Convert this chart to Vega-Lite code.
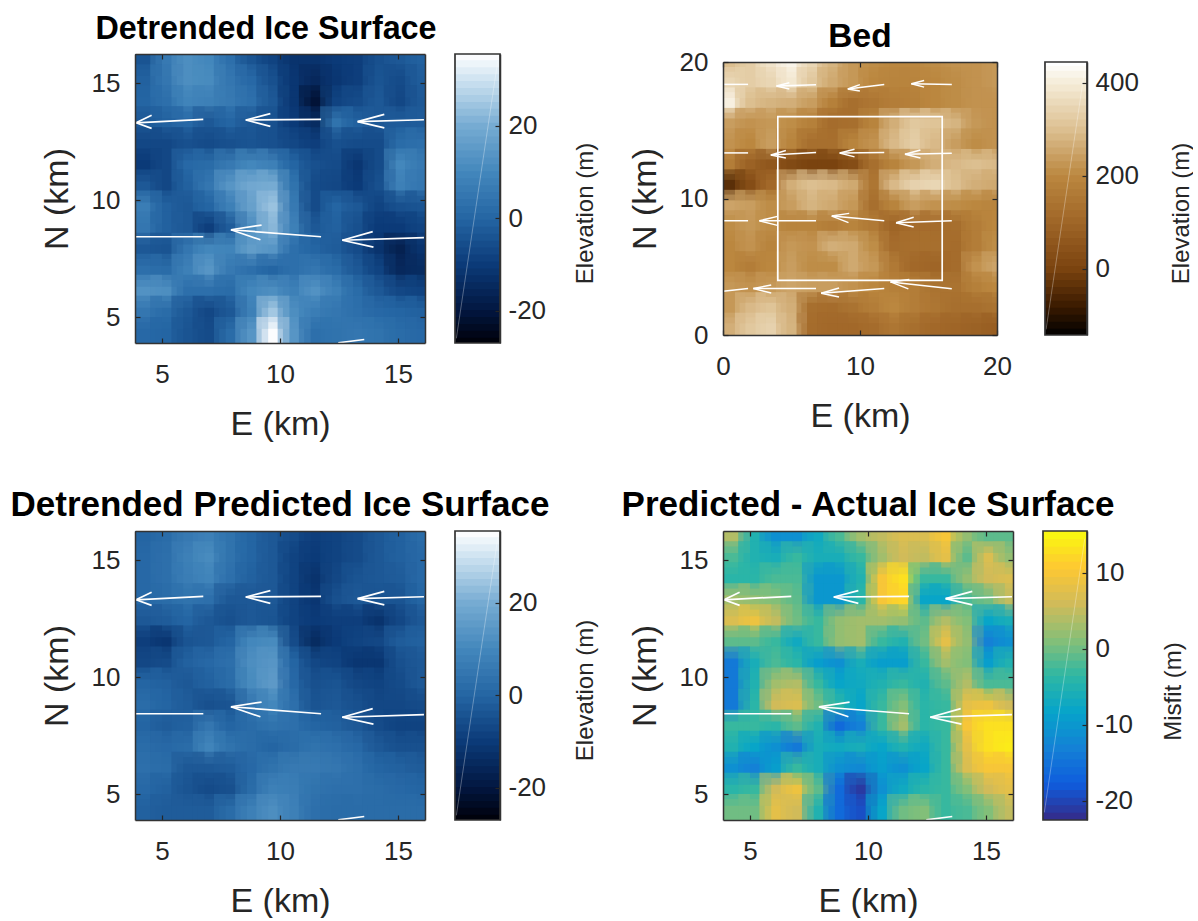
{"$schema":"https://vega.github.io/schema/vega-lite/v6.json","padding":{"left":10,"top":13,"right":0,"bottom":0},"background":"white","columns":5,"align":"each","bounds":"flush","center":{"row":true,"column":false},"spacing":{"column":30,"row":188},"resolve":{"scale":{"color":"independent"}},
"config":{"view":{"stroke":null},"axis":{"grid":false,"domainColor":"#333333","domainWidth":1.5,"tickColor":"#262626","tickSize":-5,"tickWidth":1.2,"labelFont":"Liberation Sans","labelFontSize":26,"labelColor":"#262626","labelFlush":false,"labelOverlap":false,"labelExpr":"''+datum.value","titleFont":"Liberation Sans","titleFontSize":34,"titleFontWeight":"normal","titleColor":"#262626"},"axisX":{"labelPadding":23,"titlePadding":20},"axisY":{"labelPadding":20,"titlePadding":17},"title":{"font":"Liberation Sans","fontSize":32,"fontWeight":"bold","color":"#000000","offset":8}},
"datasets":{
"cbBlue":[{"v":-26.5},{"v":-25},{"v":-23.5},{"v":-22},{"v":-20.5},{"v":-19},{"v":-17.5},{"v":-16},{"v":-14.5},{"v":-13},{"v":-11.5},{"v":-10},{"v":-8.5},{"v":-7},{"v":-5.5},{"v":-4},{"v":-2.5},{"v":-1},{"v":0.5},{"v":2},{"v":3.5},{"v":5},{"v":6.5},{"v":8},{"v":9.5},{"v":11},{"v":12.5},{"v":14},{"v":15.5},{"v":17},{"v":18.5},{"v":20},{"v":21.5},{"v":23},{"v":24.5},{"v":26},{"v":27.5},{"v":29},{"v":30.5},{"v":32},{"v":33.5},{"v":35}],
"cbBed":[{"v":-135},{"v":-120},{"v":-105},{"v":-90},{"v":-75},{"v":-60},{"v":-45},{"v":-30},{"v":-15},{"v":0},{"v":15},{"v":30},{"v":45},{"v":60},{"v":75},{"v":90},{"v":105},{"v":120},{"v":135},{"v":150},{"v":165},{"v":180},{"v":195},{"v":210},{"v":225},{"v":240},{"v":255},{"v":270},{"v":285},{"v":300},{"v":315},{"v":330},{"v":345},{"v":360},{"v":375},{"v":390},{"v":405},{"v":420},{"v":435},{"v":445}],
"cbMis":[{"v":-22},{"v":-21},{"v":-20},{"v":-19},{"v":-18},{"v":-17},{"v":-16},{"v":-15},{"v":-14},{"v":-13},{"v":-12},{"v":-11},{"v":-10},{"v":-9},{"v":-8},{"v":-7},{"v":-6},{"v":-5},{"v":-4},{"v":-3},{"v":-2},{"v":-1},{"v":0},{"v":1},{"v":2},{"v":3},{"v":4},{"v":5},{"v":6},{"v":7},{"v":8},{"v":9},{"v":10},{"v":11},{"v":12},{"v":13},{"v":14},{"v":15}],
"arrows":[{"x":6.75,"y":13.45,"x2":3.9,"y2":13.3},{"x":3.9,"y":13.3,"x2":4.56,"y2":13.62},{"x":3.9,"y":13.3,"x2":4.56,"y2":13.06},{"x":11.74,"y":13.45,"x2":8.55,"y2":13.42},{"x":8.55,"y":13.42,"x2":9.59,"y2":13.69},{"x":8.55,"y":13.42,"x2":9.59,"y2":13.15},{"x":16.1,"y":13.43,"x2":13.29,"y2":13.35},{"x":13.29,"y":13.35,"x2":14.42,"y2":13.66},{"x":13.29,"y":13.35,"x2":14.42,"y2":13.08},{"x":6.75,"y":8.43,"x2":3.86,"y2":8.43},{"x":11.74,"y":8.43,"x2":7.92,"y2":8.73},{"x":7.92,"y":8.73,"x2":9.22,"y2":8.93},{"x":7.92,"y":8.73,"x2":9.17,"y2":8.3},{"x":16.1,"y":8.39,"x2":12.64,"y2":8.28},{"x":12.64,"y":8.28,"x2":13.93,"y2":8.65},{"x":12.64,"y":8.28,"x2":13.96,"y2":7.99},{"x":13.57,"y":4.04,"x2":12.47,"y2":3.9}],
"bedArrows":[{"x":1.83,"y":18.36,"x2":0,"y2":18.36},{"x":6.79,"y":18.33,"x2":3.91,"y2":18.24},{"x":3.91,"y":18.24,"x2":4.84,"y2":18.48},{"x":3.91,"y":18.24,"x2":4.84,"y2":18.02},{"x":11.77,"y":18.36,"x2":9.11,"y2":18.02},{"x":9.11,"y":18.02,"x2":9.99,"y2":18.34},{"x":9.11,"y":18.02,"x2":9.99,"y2":17.87},{"x":16.7,"y":18.36,"x2":13.75,"y2":18.41},{"x":13.75,"y":18.41,"x2":14.68,"y2":18.65},{"x":13.75,"y":18.41,"x2":14.68,"y2":18.16},{"x":1.83,"y":13.34,"x2":0,"y2":13.34},{"x":6.79,"y":13.37,"x2":3.49,"y2":13.19},{"x":3.49,"y":13.19,"x2":4.59,"y2":13.51},{"x":3.49,"y":13.19,"x2":4.59,"y2":12.97},{"x":11.77,"y":13.37,"x2":8.52,"y2":13.34},{"x":8.52,"y":13.34,"x2":9.6,"y2":13.61},{"x":8.52,"y":13.34,"x2":9.6,"y2":13.05},{"x":16.7,"y":13.32,"x2":13.28,"y2":13.24},{"x":13.28,"y":13.24,"x2":14.41,"y2":13.56},{"x":13.28,"y":13.24,"x2":14.41,"y2":12.97},{"x":1.83,"y":8.37,"x2":0,"y2":8.37},{"x":6.79,"y":8.37,"x2":2.66,"y2":8.37},{"x":2.66,"y":8.37,"x2":3.98,"y2":8.69},{"x":2.66,"y":8.37,"x2":3.98,"y2":8.03},{"x":11.77,"y":8.37,"x2":7.94,"y2":8.71},{"x":7.94,"y":8.71,"x2":9.21,"y2":8.91},{"x":7.94,"y":8.71,"x2":9.16,"y2":8.23},{"x":16.7,"y":8.37,"x2":12.63,"y2":8.23},{"x":12.63,"y":8.23,"x2":13.92,"y2":8.62},{"x":12.63,"y":8.23,"x2":13.92,"y2":7.91},{"x":1.83,"y":3.4,"x2":0,"y2":3.21},{"x":6.79,"y":3.4,"x2":2.22,"y2":3.4},{"x":2.22,"y":3.4,"x2":3.52,"y2":3.67},{"x":2.22,"y":3.4,"x2":3.52,"y2":3.08},{"x":11.77,"y":3.4,"x2":7.16,"y2":3.06},{"x":7.16,"y":3.06,"x2":8.47,"y2":3.45},{"x":7.16,"y":3.06,"x2":8.47,"y2":2.79},{"x":16.7,"y":3.38,"x2":12.23,"y2":3.89},{"x":12.23,"y":3.89,"x2":13.6,"y2":4.06},{"x":12.23,"y":3.89,"x2":13.53,"y2":3.38}],
"ice":[{"e":4.3,"n":16,"v":-4},{"e":5.2,"n":16,"v":6},{"e":6.1,"n":16,"v":12},{"e":7,"n":16,"v":10},{"e":7.9,"n":16,"v":3},{"e":8.8,"n":16,"v":-4},{"e":9.7,"n":16,"v":-8},{"e":10.6,"n":16,"v":-12},{"e":11.5,"n":16,"v":-12},{"e":12.4,"n":16,"v":-10},{"e":13.3,"n":16,"v":-9},{"e":14.2,"n":16,"v":-5},{"e":15.1,"n":16,"v":-3},{"e":16,"n":16,"v":-1},
{"e":4.3,"n":15.1,"v":-1},{"e":5.2,"n":15.1,"v":5},{"e":6.1,"n":15.1,"v":12},{"e":7,"n":15.1,"v":11},{"e":7.9,"n":15.1,"v":5},{"e":8.8,"n":15.1,"v":1},{"e":9.7,"n":15.1,"v":-5},{"e":10.6,"n":15.1,"v":-11},{"e":11.5,"n":15.1,"v":-15},{"e":12.4,"n":15.1,"v":-11},{"e":13.3,"n":15.1,"v":-9},{"e":14.2,"n":15.1,"v":-4},{"e":15.1,"n":15.1,"v":-6},{"e":16,"n":15.1,"v":-2},
{"e":4.3,"n":14.2,"v":0},{"e":5.2,"n":14.2,"v":3},{"e":6.1,"n":14.2,"v":9},{"e":7,"n":14.2,"v":8},{"e":7.9,"n":14.2,"v":6},{"e":8.8,"n":14.2,"v":3},{"e":9.7,"n":14.2,"v":-3},{"e":10.6,"n":14.2,"v":-11},{"e":11.5,"n":14.2,"v":-21},{"e":12.4,"n":14.2,"v":-8},{"e":13.3,"n":14.2,"v":-6},{"e":14.2,"n":14.2,"v":-3},{"e":15.1,"n":14.2,"v":-7},{"e":16,"n":14.2,"v":-3},
{"e":4.3,"n":13.3,"v":-3},{"e":5.2,"n":13.3,"v":-1},{"e":6.1,"n":13.3,"v":1},{"e":7,"n":13.3,"v":-3},{"e":7.9,"n":13.3,"v":0},{"e":8.8,"n":13.3,"v":-3},{"e":9.7,"n":13.3,"v":-5},{"e":10.6,"n":13.3,"v":-10},{"e":11.5,"n":13.3,"v":-14},{"e":12.4,"n":13.3,"v":4},{"e":13.3,"n":13.3,"v":-1},{"e":14.2,"n":13.3,"v":-3},{"e":15.1,"n":13.3,"v":-2},{"e":16,"n":13.3,"v":-2},
{"e":4.3,"n":12.4,"v":-7},{"e":5.2,"n":12.4,"v":-7},{"e":6.1,"n":12.4,"v":-5},{"e":7,"n":12.4,"v":-6},{"e":7.9,"n":12.4,"v":-5},{"e":8.8,"n":12.4,"v":-4},{"e":9.7,"n":12.4,"v":-5},{"e":10.6,"n":12.4,"v":-7},{"e":11.5,"n":12.4,"v":-9},{"e":12.4,"n":12.4,"v":-5},{"e":13.3,"n":12.4,"v":-6},{"e":14.2,"n":12.4,"v":-6},{"e":15.1,"n":12.4,"v":2},{"e":16,"n":12.4,"v":3},
{"e":4.3,"n":11.5,"v":-10},{"e":5.2,"n":11.5,"v":-7},{"e":6.1,"n":11.5,"v":1},{"e":7,"n":11.5,"v":2},{"e":7.9,"n":11.5,"v":6},{"e":8.8,"n":11.5,"v":10},{"e":9.7,"n":11.5,"v":8},{"e":10.6,"n":11.5,"v":0},{"e":11.5,"n":11.5,"v":-5},{"e":12.4,"n":11.5,"v":-6},{"e":13.3,"n":11.5,"v":-11},{"e":14.2,"n":11.5,"v":-6},{"e":15.1,"n":11.5,"v":10},{"e":16,"n":11.5,"v":6},
{"e":4.3,"n":10.6,"v":-3},{"e":5.2,"n":10.6,"v":-7},{"e":6.1,"n":10.6,"v":-1},{"e":7,"n":10.6,"v":5},{"e":7.9,"n":10.6,"v":14},{"e":8.8,"n":10.6,"v":19},{"e":9.7,"n":10.6,"v":20},{"e":10.6,"n":10.6,"v":4},{"e":11.5,"n":10.6,"v":-6},{"e":12.4,"n":10.6,"v":-7},{"e":13.3,"n":10.6,"v":-10},{"e":14.2,"n":10.6,"v":-5},{"e":15.1,"n":10.6,"v":8},{"e":16,"n":10.6,"v":5},
{"e":4.3,"n":9.7,"v":7},{"e":5.2,"n":9.7,"v":-1},{"e":6.1,"n":9.7,"v":-3},{"e":7,"n":9.7,"v":0},{"e":7.9,"n":9.7,"v":8},{"e":8.8,"n":9.7,"v":17},{"e":9.7,"n":9.7,"v":24},{"e":10.6,"n":9.7,"v":6},{"e":11.5,"n":9.7,"v":-6},{"e":12.4,"n":9.7,"v":0},{"e":13.3,"n":9.7,"v":-3},{"e":14.2,"n":9.7,"v":-8},{"e":15.1,"n":9.7,"v":-5},{"e":16,"n":9.7,"v":-4},
{"e":4.3,"n":8.8,"v":5},{"e":5.2,"n":8.8,"v":-1},{"e":6.1,"n":8.8,"v":-3},{"e":7,"n":8.8,"v":-9},{"e":7.9,"n":8.8,"v":-2},{"e":8.8,"n":8.8,"v":12},{"e":9.7,"n":8.8,"v":22},{"e":10.6,"n":8.8,"v":8},{"e":11.5,"n":8.8,"v":-3},{"e":12.4,"n":8.8,"v":-1},{"e":13.3,"n":8.8,"v":-5},{"e":14.2,"n":8.8,"v":-10},{"e":15.1,"n":8.8,"v":-10},{"e":16,"n":8.8,"v":-8},
{"e":4.3,"n":7.9,"v":-3},{"e":5.2,"n":7.9,"v":-4},{"e":6.1,"n":7.9,"v":5},{"e":7,"n":7.9,"v":10},{"e":7.9,"n":7.9,"v":9},{"e":8.8,"n":7.9,"v":16},{"e":9.7,"n":7.9,"v":14},{"e":10.6,"n":7.9,"v":3},{"e":11.5,"n":7.9,"v":0},{"e":12.4,"n":7.9,"v":-2},{"e":13.3,"n":7.9,"v":-6},{"e":14.2,"n":7.9,"v":-12},{"e":15.1,"n":7.9,"v":-17},{"e":16,"n":7.9,"v":-12},
{"e":4.3,"n":7,"v":3},{"e":5.2,"n":7,"v":2},{"e":6.1,"n":7,"v":8},{"e":7,"n":7,"v":14},{"e":7.9,"n":7,"v":6},{"e":8.8,"n":7,"v":3},{"e":9.7,"n":7,"v":0},{"e":10.6,"n":7,"v":3},{"e":11.5,"n":7,"v":5},{"e":12.4,"n":7,"v":2},{"e":13.3,"n":7,"v":-3},{"e":14.2,"n":7,"v":-8},{"e":15.1,"n":7,"v":-15},{"e":16,"n":7,"v":-14},
{"e":4.3,"n":6.1,"v":13},{"e":5.2,"n":6.1,"v":12},{"e":6.1,"n":6.1,"v":3},{"e":7,"n":6.1,"v":3},{"e":7.9,"n":6.1,"v":2},{"e":8.8,"n":6.1,"v":10},{"e":9.7,"n":6.1,"v":12},{"e":10.6,"n":6.1,"v":8},{"e":11.5,"n":6.1,"v":13},{"e":12.4,"n":6.1,"v":8},{"e":13.3,"n":6.1,"v":2},{"e":14.2,"n":6.1,"v":-3},{"e":15.1,"n":6.1,"v":-7},{"e":16,"n":6.1,"v":-8},
{"e":4.3,"n":5.2,"v":5},{"e":5.2,"n":5.2,"v":2},{"e":6.1,"n":5.2,"v":-3},{"e":7,"n":5.2,"v":-7},{"e":7.9,"n":5.2,"v":-3},{"e":8.8,"n":5.2,"v":8},{"e":9.7,"n":5.2,"v":25},{"e":10.6,"n":5.2,"v":12},{"e":11.5,"n":5.2,"v":7},{"e":12.4,"n":5.2,"v":5},{"e":13.3,"n":5.2,"v":3},{"e":14.2,"n":5.2,"v":1},{"e":15.1,"n":5.2,"v":0},{"e":16,"n":5.2,"v":-1},
{"e":4.3,"n":4.3,"v":1},{"e":5.2,"n":4.3,"v":0},{"e":6.1,"n":4.3,"v":-4},{"e":7,"n":4.3,"v":-6},{"e":7.9,"n":4.3,"v":2},{"e":8.8,"n":4.3,"v":14},{"e":9.7,"n":4.3,"v":35},{"e":10.6,"n":4.3,"v":14},{"e":11.5,"n":4.3,"v":3},{"e":12.4,"n":4.3,"v":4},{"e":13.3,"n":4.3,"v":5},{"e":14.2,"n":4.3,"v":4},{"e":15.1,"n":4.3,"v":2},{"e":16,"n":4.3,"v":1}],
"pred":[{"e":4.3,"n":16,"v":0},{"e":5.2,"n":16,"v":2},{"e":6.1,"n":16,"v":6},{"e":7,"n":16,"v":8},{"e":7.9,"n":16,"v":4},{"e":8.8,"n":16,"v":0},{"e":9.7,"n":16,"v":-3},{"e":10.6,"n":16,"v":-6},{"e":11.5,"n":16,"v":-9},{"e":12.4,"n":16,"v":-8},{"e":13.3,"n":16,"v":-6},{"e":14.2,"n":16,"v":-3},{"e":15.1,"n":16,"v":-1},{"e":16,"n":16,"v":2},
{"e":4.3,"n":15.1,"v":1},{"e":5.2,"n":15.1,"v":3},{"e":6.1,"n":15.1,"v":8},{"e":7,"n":15.1,"v":11},{"e":7.9,"n":15.1,"v":4},{"e":8.8,"n":15.1,"v":0},{"e":9.7,"n":15.1,"v":-3},{"e":10.6,"n":15.1,"v":-8},{"e":11.5,"n":15.1,"v":-10},{"e":12.4,"n":15.1,"v":-8},{"e":13.3,"n":15.1,"v":-6},{"e":14.2,"n":15.1,"v":-3},{"e":15.1,"n":15.1,"v":-1},{"e":16,"n":15.1,"v":1},
{"e":4.3,"n":14.2,"v":1},{"e":5.2,"n":14.2,"v":3},{"e":6.1,"n":14.2,"v":7},{"e":7,"n":14.2,"v":9},{"e":7.9,"n":14.2,"v":3},{"e":8.8,"n":14.2,"v":-1},{"e":9.7,"n":14.2,"v":-3},{"e":10.6,"n":14.2,"v":-8},{"e":11.5,"n":14.2,"v":-12},{"e":12.4,"n":14.2,"v":-7},{"e":13.3,"n":14.2,"v":-4},{"e":14.2,"n":14.2,"v":-3},{"e":15.1,"n":14.2,"v":-2},{"e":16,"n":14.2,"v":1},
{"e":4.3,"n":13.3,"v":1},{"e":5.2,"n":13.3,"v":2},{"e":6.1,"n":13.3,"v":4},{"e":7,"n":13.3,"v":3},{"e":7.9,"n":13.3,"v":-3},{"e":8.8,"n":13.3,"v":-3},{"e":9.7,"n":13.3,"v":-3},{"e":10.6,"n":13.3,"v":-8},{"e":11.5,"n":13.3,"v":-11},{"e":12.4,"n":13.3,"v":-5},{"e":13.3,"n":13.3,"v":-3},{"e":14.2,"n":13.3,"v":-4},{"e":15.1,"n":13.3,"v":-4},{"e":16,"n":13.3,"v":0},
{"e":4.3,"n":12.4,"v":-3},{"e":5.2,"n":12.4,"v":-2},{"e":6.1,"n":12.4,"v":0},{"e":7,"n":12.4,"v":-3},{"e":7.9,"n":12.4,"v":-5},{"e":8.8,"n":12.4,"v":-3},{"e":9.7,"n":12.4,"v":-4},{"e":10.6,"n":12.4,"v":-8},{"e":11.5,"n":12.4,"v":-10},{"e":12.4,"n":12.4,"v":-9},{"e":13.3,"n":12.4,"v":-9},{"e":14.2,"n":12.4,"v":-12},{"e":15.1,"n":12.4,"v":-7},{"e":16,"n":12.4,"v":-3},
{"e":4.3,"n":11.5,"v":-9},{"e":5.2,"n":11.5,"v":-11},{"e":6.1,"n":11.5,"v":-4},{"e":7,"n":11.5,"v":-3},{"e":7.9,"n":11.5,"v":0},{"e":8.8,"n":11.5,"v":10},{"e":9.7,"n":11.5,"v":11},{"e":10.6,"n":11.5,"v":-6},{"e":11.5,"n":11.5,"v":-14},{"e":12.4,"n":11.5,"v":-10},{"e":13.3,"n":11.5,"v":-8},{"e":14.2,"n":11.5,"v":-7},{"e":15.1,"n":11.5,"v":-2},{"e":16,"n":11.5,"v":-1},
{"e":4.3,"n":10.6,"v":-7},{"e":5.2,"n":10.6,"v":-6},{"e":6.1,"n":10.6,"v":-1},{"e":7,"n":10.6,"v":1},{"e":7.9,"n":10.6,"v":3},{"e":8.8,"n":10.6,"v":12},{"e":9.7,"n":10.6,"v":14},{"e":10.6,"n":10.6,"v":0},{"e":11.5,"n":10.6,"v":-7},{"e":12.4,"n":10.6,"v":-8},{"e":13.3,"n":10.6,"v":-11},{"e":14.2,"n":10.6,"v":-11},{"e":15.1,"n":10.6,"v":-5},{"e":16,"n":10.6,"v":-3},
{"e":4.3,"n":9.7,"v":0},{"e":5.2,"n":9.7,"v":-1},{"e":6.1,"n":9.7,"v":-3},{"e":7,"n":9.7,"v":-1},{"e":7.9,"n":9.7,"v":2},{"e":8.8,"n":9.7,"v":11},{"e":9.7,"n":9.7,"v":15},{"e":10.6,"n":9.7,"v":1},{"e":11.5,"n":9.7,"v":-5},{"e":12.4,"n":9.7,"v":-4},{"e":13.3,"n":9.7,"v":-7},{"e":14.2,"n":9.7,"v":-8},{"e":15.1,"n":9.7,"v":-6},{"e":16,"n":9.7,"v":-3},
{"e":4.3,"n":8.8,"v":2},{"e":5.2,"n":8.8,"v":0},{"e":6.1,"n":8.8,"v":-2},{"e":7,"n":8.8,"v":-5},{"e":7.9,"n":8.8,"v":-4},{"e":8.8,"n":8.8,"v":5},{"e":9.7,"n":8.8,"v":10},{"e":10.6,"n":8.8,"v":3},{"e":11.5,"n":8.8,"v":-4},{"e":12.4,"n":8.8,"v":-3},{"e":13.3,"n":8.8,"v":-5},{"e":14.2,"n":8.8,"v":-7},{"e":15.1,"n":8.8,"v":-7},{"e":16,"n":8.8,"v":-6},
{"e":4.3,"n":7.9,"v":0},{"e":5.2,"n":7.9,"v":-2},{"e":6.1,"n":7.9,"v":-1},{"e":7,"n":7.9,"v":5},{"e":7.9,"n":7.9,"v":0},{"e":8.8,"n":7.9,"v":2},{"e":9.7,"n":7.9,"v":4},{"e":10.6,"n":7.9,"v":3},{"e":11.5,"n":7.9,"v":0},{"e":12.4,"n":7.9,"v":-1},{"e":13.3,"n":7.9,"v":-3},{"e":14.2,"n":7.9,"v":-6},{"e":15.1,"n":7.9,"v":-8},{"e":16,"n":7.9,"v":-8},
{"e":4.3,"n":7,"v":2},{"e":5.2,"n":7,"v":1},{"e":6.1,"n":7,"v":2},{"e":7,"n":7,"v":9},{"e":7.9,"n":7,"v":4},{"e":8.8,"n":7,"v":2},{"e":9.7,"n":7,"v":0},{"e":10.6,"n":7,"v":2},{"e":11.5,"n":7,"v":4},{"e":12.4,"n":7,"v":3},{"e":13.3,"n":7,"v":1},{"e":14.2,"n":7,"v":-3},{"e":15.1,"n":7,"v":-5},{"e":16,"n":7,"v":-5},
{"e":4.3,"n":6.1,"v":3},{"e":5.2,"n":6.1,"v":2},{"e":6.1,"n":6.1,"v":-3},{"e":7,"n":6.1,"v":-3},{"e":7.9,"n":6.1,"v":-2},{"e":8.8,"n":6.1,"v":1},{"e":9.7,"n":6.1,"v":4},{"e":10.6,"n":6.1,"v":6},{"e":11.5,"n":6.1,"v":6},{"e":12.4,"n":6.1,"v":5},{"e":13.3,"n":6.1,"v":3},{"e":14.2,"n":6.1,"v":0},{"e":15.1,"n":6.1,"v":-1},{"e":16,"n":6.1,"v":-2},
{"e":4.3,"n":5.2,"v":1},{"e":5.2,"n":5.2,"v":-1},{"e":6.1,"n":5.2,"v":-4},{"e":7,"n":5.2,"v":-6},{"e":7.9,"n":5.2,"v":-5},{"e":8.8,"n":5.2,"v":2},{"e":9.7,"n":5.2,"v":8},{"e":10.6,"n":5.2,"v":7},{"e":11.5,"n":5.2,"v":4},{"e":12.4,"n":5.2,"v":3},{"e":13.3,"n":5.2,"v":3},{"e":14.2,"n":5.2,"v":2},{"e":15.1,"n":5.2,"v":1},{"e":16,"n":5.2,"v":0},
{"e":4.3,"n":4.3,"v":-1},{"e":5.2,"n":4.3,"v":-2},{"e":6.1,"n":4.3,"v":-2},{"e":7,"n":4.3,"v":-2},{"e":7.9,"n":4.3,"v":2},{"e":8.8,"n":4.3,"v":8},{"e":9.7,"n":4.3,"v":12},{"e":10.6,"n":4.3,"v":8},{"e":11.5,"n":4.3,"v":3},{"e":12.4,"n":4.3,"v":2},{"e":13.3,"n":4.3,"v":2},{"e":14.2,"n":4.3,"v":2},{"e":15.1,"n":4.3,"v":2},{"e":16,"n":4.3,"v":2}],
"mis":[{"e":4.3,"n":16,"v":4},{"e":5.2,"n":16,"v":-5},{"e":6.1,"n":16,"v":-11},{"e":7,"n":16,"v":-11},{"e":7.9,"n":16,"v":-7},{"e":8.8,"n":16,"v":-2},{"e":9.7,"n":16,"v":3},{"e":10.6,"n":16,"v":5},{"e":11.5,"n":16,"v":7},{"e":12.4,"n":16,"v":7},{"e":13.3,"n":16,"v":10},{"e":14.2,"n":16,"v":2},{"e":15.1,"n":16,"v":-1},{"e":16,"n":16,"v":-1},
{"e":4.3,"n":15.1,"v":-2},{"e":5.2,"n":15.1,"v":-5},{"e":6.1,"n":15.1,"v":-6},{"e":7,"n":15.1,"v":-3},{"e":7.9,"n":15.1,"v":-6},{"e":8.8,"n":15.1,"v":-6},{"e":9.7,"n":15.1,"v":-3},{"e":10.6,"n":15.1,"v":3},{"e":11.5,"n":15.1,"v":6},{"e":12.4,"n":15.1,"v":5},{"e":13.3,"n":15.1,"v":8},{"e":14.2,"n":15.1,"v":-1},{"e":15.1,"n":15.1,"v":7},{"e":16,"n":15.1,"v":2},
{"e":4.3,"n":14.2,"v":-4},{"e":5.2,"n":14.2,"v":-4},{"e":6.1,"n":14.2,"v":-2},{"e":7,"n":14.2,"v":-2},{"e":7.9,"n":14.2,"v":-10},{"e":8.8,"n":14.2,"v":-10},{"e":9.7,"n":14.2,"v":-5},{"e":10.6,"n":14.2,"v":10},{"e":11.5,"n":14.2,"v":13},{"e":12.4,"n":14.2,"v":-3},{"e":13.3,"n":14.2,"v":-3},{"e":14.2,"n":14.2,"v":2},{"e":15.1,"n":14.2,"v":6},{"e":16,"n":14.2,"v":7},
{"e":4.3,"n":13.3,"v":3},{"e":5.2,"n":13.3,"v":2},{"e":6.1,"n":13.3,"v":1},{"e":7,"n":13.3,"v":-1},{"e":7.9,"n":13.3,"v":-10},{"e":8.8,"n":13.3,"v":-10},{"e":9.7,"n":13.3,"v":-4},{"e":10.6,"n":13.3,"v":10},{"e":11.5,"n":13.3,"v":12},{"e":12.4,"n":13.3,"v":-8},{"e":13.3,"n":13.3,"v":-8},{"e":14.2,"n":13.3,"v":-2},{"e":15.1,"n":13.3,"v":0},{"e":16,"n":13.3,"v":5},
{"e":4.3,"n":12.4,"v":7},{"e":5.2,"n":12.4,"v":9},{"e":6.1,"n":12.4,"v":5},{"e":7,"n":12.4,"v":0},{"e":7.9,"n":12.4,"v":-3},{"e":8.8,"n":12.4,"v":2},{"e":9.7,"n":12.4,"v":3},{"e":10.6,"n":12.4,"v":3},{"e":11.5,"n":12.4,"v":2},{"e":12.4,"n":12.4,"v":-1},{"e":13.3,"n":12.4,"v":4},{"e":14.2,"n":12.4,"v":1},{"e":15.1,"n":12.4,"v":-8},{"e":16,"n":12.4,"v":-6},
{"e":4.3,"n":11.5,"v":-1},{"e":5.2,"n":11.5,"v":-1},{"e":6.1,"n":11.5,"v":-3},{"e":7,"n":11.5,"v":-7},{"e":7.9,"n":11.5,"v":-3},{"e":8.8,"n":11.5,"v":2},{"e":9.7,"n":11.5,"v":3},{"e":10.6,"n":11.5,"v":-3},{"e":11.5,"n":11.5,"v":-5},{"e":12.4,"n":11.5,"v":0},{"e":13.3,"n":11.5,"v":8},{"e":14.2,"n":11.5,"v":2},{"e":15.1,"n":11.5,"v":-13},{"e":16,"n":11.5,"v":-11},
{"e":4.3,"n":10.6,"v":-14},{"e":5.2,"n":10.6,"v":-6},{"e":6.1,"n":10.6,"v":-2},{"e":7,"n":10.6,"v":-4},{"e":7.9,"n":10.6,"v":-9},{"e":8.8,"n":10.6,"v":-11},{"e":9.7,"n":10.6,"v":-6},{"e":10.6,"n":10.6,"v":-9},{"e":11.5,"n":10.6,"v":-9},{"e":12.4,"n":10.6,"v":-3},{"e":13.3,"n":10.6,"v":3},{"e":14.2,"n":10.6,"v":1},{"e":15.1,"n":10.6,"v":-9},{"e":16,"n":10.6,"v":-5},
{"e":4.3,"n":9.7,"v":-14},{"e":5.2,"n":9.7,"v":-5},{"e":6.1,"n":9.7,"v":3},{"e":7,"n":9.7,"v":4},{"e":7.9,"n":9.7,"v":-3},{"e":8.8,"n":9.7,"v":-8},{"e":9.7,"n":9.7,"v":-7},{"e":10.6,"n":9.7,"v":-5},{"e":11.5,"n":9.7,"v":-3},{"e":12.4,"n":9.7,"v":-5},{"e":13.3,"n":9.7,"v":-1},{"e":14.2,"n":9.7,"v":4},{"e":15.1,"n":9.7,"v":-2},{"e":16,"n":9.7,"v":-2},
{"e":4.3,"n":8.8,"v":-14},{"e":5.2,"n":8.8,"v":-4},{"e":6.1,"n":8.8,"v":6},{"e":7,"n":8.8,"v":7},{"e":7.9,"n":8.8,"v":0},{"e":8.8,"n":8.8,"v":-4},{"e":9.7,"n":8.8,"v":-8},{"e":10.6,"n":8.8,"v":-3},{"e":11.5,"n":8.8,"v":1},{"e":12.4,"n":8.8,"v":-4},{"e":13.3,"n":8.8,"v":-3},{"e":14.2,"n":8.8,"v":8},{"e":15.1,"n":8.8,"v":9},{"e":16,"n":8.8,"v":6},
{"e":4.3,"n":7.9,"v":-3},{"e":5.2,"n":7.9,"v":-3},{"e":6.1,"n":7.9,"v":-4},{"e":7,"n":7.9,"v":-1},{"e":7.9,"n":7.9,"v":-5},{"e":8.8,"n":7.9,"v":-16},{"e":9.7,"n":7.9,"v":-13},{"e":10.6,"n":7.9,"v":-3},{"e":11.5,"n":7.9,"v":3},{"e":12.4,"n":7.9,"v":-4},{"e":13.3,"n":7.9,"v":-3},{"e":14.2,"n":7.9,"v":10},{"e":15.1,"n":7.9,"v":13},{"e":16,"n":7.9,"v":13},
{"e":4.3,"n":7,"v":-5},{"e":5.2,"n":7,"v":-8},{"e":6.1,"n":7,"v":-11},{"e":7,"n":7,"v":-14},{"e":7.9,"n":7,"v":-6},{"e":8.8,"n":7,"v":-7},{"e":9.7,"n":7,"v":-6},{"e":10.6,"n":7,"v":-8},{"e":11.5,"n":7,"v":-5},{"e":12.4,"n":7,"v":-7},{"e":13.3,"n":7,"v":-3},{"e":14.2,"n":7,"v":8},{"e":15.1,"n":7,"v":13},{"e":16,"n":7,"v":14},
{"e":4.3,"n":6.1,"v":-11},{"e":5.2,"n":6.1,"v":-13},{"e":6.1,"n":6.1,"v":-9},{"e":7,"n":6.1,"v":-3},{"e":7.9,"n":6.1,"v":-6},{"e":8.8,"n":6.1,"v":-11},{"e":9.7,"n":6.1,"v":-12},{"e":10.6,"n":6.1,"v":-9},{"e":11.5,"n":6.1,"v":-11},{"e":12.4,"n":6.1,"v":-8},{"e":13.3,"n":6.1,"v":-3},{"e":14.2,"n":6.1,"v":7},{"e":15.1,"n":6.1,"v":10},{"e":16,"n":6.1,"v":10},
{"e":4.3,"n":5.2,"v":-4},{"e":5.2,"n":5.2,"v":-3},{"e":6.1,"n":5.2,"v":6},{"e":7,"n":5.2,"v":9},{"e":7.9,"n":5.2,"v":-1},{"e":8.8,"n":5.2,"v":-16},{"e":9.7,"n":5.2,"v":-21},{"e":10.6,"n":5.2,"v":-11},{"e":11.5,"n":5.2,"v":-7},{"e":12.4,"n":5.2,"v":-4},{"e":13.3,"n":5.2,"v":-3},{"e":14.2,"n":5.2,"v":1},{"e":15.1,"n":5.2,"v":6},{"e":16,"n":5.2,"v":8},
{"e":4.3,"n":4.3,"v":0},{"e":5.2,"n":4.3,"v":0},{"e":6.1,"n":4.3,"v":8},{"e":7,"n":4.3,"v":6},{"e":7.9,"n":4.3,"v":-5},{"e":8.8,"n":4.3,"v":-16},{"e":9.7,"n":4.3,"v":-19},{"e":10.6,"n":4.3,"v":-8},{"e":11.5,"n":4.3,"v":0},{"e":12.4,"n":4.3,"v":1},{"e":13.3,"n":4.3,"v":-3},{"e":14.2,"n":4.3,"v":-2},{"e":15.1,"n":4.3,"v":1},{"e":16,"n":4.3,"v":5}],
"bed":[{"e":0.5,"n":20,"v":300},{"e":2,"n":20,"v":330},{"e":3.5,"n":20,"v":380},{"e":5,"n":20,"v":420},{"e":6.5,"n":20,"v":350},{"e":8,"n":20,"v":280},{"e":9.5,"n":20,"v":230},{"e":11,"n":20,"v":210},{"e":12.5,"n":20,"v":200},{"e":14,"n":20,"v":200},{"e":15.5,"n":20,"v":210},{"e":17,"n":20,"v":220},{"e":18.5,"n":20,"v":220},{"e":20,"n":20,"v":230},
{"e":0.5,"n":18.5,"v":350},{"e":2,"n":18.5,"v":330},{"e":3.5,"n":18.5,"v":350},{"e":5,"n":18.5,"v":390},{"e":6.5,"n":18.5,"v":320},{"e":8,"n":18.5,"v":260},{"e":9.5,"n":18.5,"v":230},{"e":11,"n":18.5,"v":200},{"e":12.5,"n":18.5,"v":190},{"e":14,"n":18.5,"v":190},{"e":15.5,"n":18.5,"v":200},{"e":17,"n":18.5,"v":210},{"e":18.5,"n":18.5,"v":220},{"e":20,"n":18.5,"v":230},
{"e":0.5,"n":17,"v":410},{"e":2,"n":17,"v":300},{"e":3.5,"n":17,"v":280},{"e":5,"n":17,"v":270},{"e":6.5,"n":17,"v":240},{"e":8,"n":17,"v":180},{"e":9.5,"n":17,"v":130},{"e":11,"n":17,"v":150},{"e":12.5,"n":17,"v":170},{"e":14,"n":17,"v":180},{"e":15.5,"n":17,"v":200},{"e":17,"n":17,"v":210},{"e":18.5,"n":17,"v":220},{"e":20,"n":17,"v":220},
{"e":0.5,"n":15.5,"v":240},{"e":2,"n":15.5,"v":220},{"e":3.5,"n":15.5,"v":230},{"e":5,"n":15.5,"v":210},{"e":6.5,"n":15.5,"v":180},{"e":8,"n":15.5,"v":120},{"e":9.5,"n":15.5,"v":130},{"e":11,"n":15.5,"v":190},{"e":12.5,"n":15.5,"v":270},{"e":14,"n":15.5,"v":320},{"e":15.5,"n":15.5,"v":310},{"e":17,"n":15.5,"v":280},{"e":18.5,"n":15.5,"v":230},{"e":20,"n":15.5,"v":220},
{"e":0.5,"n":14,"v":220},{"e":2,"n":14,"v":200},{"e":3.5,"n":14,"v":240},{"e":5,"n":14,"v":190},{"e":6.5,"n":14,"v":130},{"e":8,"n":14,"v":130},{"e":9.5,"n":14,"v":190},{"e":11,"n":14,"v":220},{"e":12.5,"n":14,"v":290},{"e":14,"n":14,"v":330},{"e":15.5,"n":14,"v":290},{"e":17,"n":14,"v":240},{"e":18.5,"n":14,"v":210},{"e":20,"n":14,"v":220},
{"e":0.5,"n":12.5,"v":170},{"e":2,"n":12.5,"v":90},{"e":3.5,"n":12.5,"v":60},{"e":5,"n":12.5,"v":20},{"e":6.5,"n":12.5,"v":0},{"e":8,"n":12.5,"v":0},{"e":9.5,"n":12.5,"v":30},{"e":11,"n":12.5,"v":130},{"e":12.5,"n":12.5,"v":190},{"e":14,"n":12.5,"v":230},{"e":15.5,"n":12.5,"v":270},{"e":17,"n":12.5,"v":290},{"e":18.5,"n":12.5,"v":300},{"e":20,"n":12.5,"v":290},
{"e":0.5,"n":11,"v":-40},{"e":2,"n":11,"v":30},{"e":3.5,"n":11,"v":110},{"e":5,"n":11,"v":270},{"e":6.5,"n":11,"v":300},{"e":8,"n":11,"v":290},{"e":9.5,"n":11,"v":260},{"e":11,"n":11,"v":150},{"e":12.5,"n":11,"v":290},{"e":14,"n":11,"v":340},{"e":15.5,"n":11,"v":350},{"e":17,"n":11,"v":300},{"e":18.5,"n":11,"v":270},{"e":20,"n":11,"v":260},
{"e":0.5,"n":9.5,"v":250},{"e":2,"n":9.5,"v":240},{"e":3.5,"n":9.5,"v":210},{"e":5,"n":9.5,"v":240},{"e":6.5,"n":9.5,"v":280},{"e":8,"n":9.5,"v":260},{"e":9.5,"n":9.5,"v":230},{"e":11,"n":9.5,"v":130},{"e":12.5,"n":9.5,"v":190},{"e":14,"n":9.5,"v":240},{"e":15.5,"n":9.5,"v":220},{"e":17,"n":9.5,"v":210},{"e":18.5,"n":9.5,"v":200},{"e":20,"n":9.5,"v":190},
{"e":0.5,"n":8,"v":210},{"e":2,"n":8,"v":230},{"e":3.5,"n":8,"v":210},{"e":5,"n":8,"v":190},{"e":6.5,"n":8,"v":190},{"e":8,"n":8,"v":170},{"e":9.5,"n":8,"v":190},{"e":11,"n":8,"v":160},{"e":12.5,"n":8,"v":100},{"e":14,"n":8,"v":120},{"e":15.5,"n":8,"v":120},{"e":17,"n":8,"v":130},{"e":18.5,"n":8,"v":170},{"e":20,"n":8,"v":200},
{"e":0.5,"n":6.5,"v":200},{"e":2,"n":6.5,"v":220},{"e":3.5,"n":6.5,"v":190},{"e":5,"n":6.5,"v":230},{"e":6.5,"n":6.5,"v":220},{"e":8,"n":6.5,"v":270},{"e":9.5,"n":6.5,"v":260},{"e":11,"n":6.5,"v":210},{"e":12.5,"n":6.5,"v":120},{"e":14,"n":6.5,"v":130},{"e":15.5,"n":6.5,"v":130},{"e":17,"n":6.5,"v":120},{"e":18.5,"n":6.5,"v":170},{"e":20,"n":6.5,"v":210},
{"e":0.5,"n":5,"v":200},{"e":2,"n":5,"v":170},{"e":3.5,"n":5,"v":200},{"e":5,"n":5,"v":240},{"e":6.5,"n":5,"v":210},{"e":8,"n":5,"v":210},{"e":9.5,"n":5,"v":260},{"e":11,"n":5,"v":230},{"e":12.5,"n":5,"v":160},{"e":14,"n":5,"v":110},{"e":15.5,"n":5,"v":100},{"e":17,"n":5,"v":120},{"e":18.5,"n":5,"v":220},{"e":20,"n":5,"v":250},
{"e":0.5,"n":3.5,"v":230},{"e":2,"n":3.5,"v":220},{"e":3.5,"n":3.5,"v":230},{"e":5,"n":3.5,"v":250},{"e":6.5,"n":3.5,"v":240},{"e":8,"n":3.5,"v":240},{"e":9.5,"n":3.5,"v":220},{"e":11,"n":3.5,"v":200},{"e":12.5,"n":3.5,"v":180},{"e":14,"n":3.5,"v":170},{"e":15.5,"n":3.5,"v":140},{"e":17,"n":3.5,"v":140},{"e":18.5,"n":3.5,"v":180},{"e":20,"n":3.5,"v":200},
{"e":0.5,"n":2,"v":230},{"e":2,"n":2,"v":290},{"e":3.5,"n":2,"v":310},{"e":5,"n":2,"v":270},{"e":6.5,"n":2,"v":130},{"e":8,"n":2,"v":120},{"e":9.5,"n":2,"v":140},{"e":11,"n":2,"v":170},{"e":12.5,"n":2,"v":200},{"e":14,"n":2,"v":170},{"e":15.5,"n":2,"v":150},{"e":17,"n":2,"v":130},{"e":18.5,"n":2,"v":130},{"e":20,"n":2,"v":140},
{"e":0.5,"n":0.5,"v":270},{"e":2,"n":0.5,"v":320},{"e":3.5,"n":0.5,"v":340},{"e":5,"n":0.5,"v":280},{"e":6.5,"n":0.5,"v":120},{"e":8,"n":0.5,"v":110},{"e":9.5,"n":0.5,"v":110},{"e":11,"n":0.5,"v":120},{"e":12.5,"n":0.5,"v":150},{"e":14,"n":0.5,"v":130},{"e":15.5,"n":0.5,"v":110},{"e":17,"n":0.5,"v":100},{"e":18.5,"n":0.5,"v":90},{"e":20,"n":0.5,"v":80}]
},
"concat":[
{"width":290,"height":289,"title":{"text":"Detrended Ice Surface","dx":-14,"fontSize":32.3},"resolve":{"axis":{"x":"independent","y":"independent"}},"layer":[
{"data":{"name":"ice"},"mark":{"type":"rect","width":22.5,"height":22.5,"clip":true},"encoding":{"x":{"field":"e","type":"quantitative","scale":{"domain":[3.856,16.144],"nice":false,"zero":false},"axis":{"orient":"bottom","zindex":1,"values":[5,10,15],"title":"E (km)"}},"y":{"field":"n","type":"quantitative","scale":{"domain":[3.89,16.24],"nice":false,"zero":false},"axis":{"orient":"left","zindex":1,"values":[5,10,15],"title":"N (km)"}},"color":{"field":"v","type":"quantitative","legend":null,"scale":{"interpolate":"rgb","domain":[-27,-20,-10,0,10,20,28,35.5],"range":["#000008","#02163f","#0b3a78","#2465a3","#4387bc","#76abd2","#bcd8eb","#ffffff"],"clamp":true}}}},
{"data":{"name":"ice"},"mark":{"type":"rect","width":33,"height":33,"opacity":0.5,"clip":true},"encoding":{"x":{"field":"e","type":"quantitative","axis":null},"y":{"field":"n","type":"quantitative","axis":null},"color":{"field":"v","type":"quantitative","legend":null}}},
{"data":{"name":"arrows"},"mark":{"type":"rule","color":"white","strokeWidth":1.7,"clip":true},"encoding":{"x":{"field":"x","type":"quantitative","scale":{"domain":[3.856,16.144],"nice":false,"zero":false},"axis":{"orient":"top","zindex":1,"labels":false,"title":null,"values":[5,10,15]}},"x2":{"field":"x2"},"y":{"field":"y","type":"quantitative","scale":{"domain":[3.89,16.24],"nice":false,"zero":false},"axis":{"orient":"right","zindex":1,"labels":false,"title":null,"values":[5,10,15]}},"y2":{"field":"y2"}}}]},
{"width":45,"height":289,"layer":[
{"data":{"name":"cbBlue"},"mark":{"type":"rect","height":8,"clip":true},"encoding":{"x":{"datum":0,"type":"quantitative","scale":{"domain":[0,1],"nice":false},"axis":null},"x2":{"datum":1},"y":{"field":"v","type":"quantitative","scale":{"domain":[-27,35.5],"nice":false,"zero":false},"axis":{"orient":"right","zindex":1,"values":[-20,0,20],"labelPadding":13,"title":"Elevation (m)","titleFontSize":24,"titleAngle":270,"titleX":85,"titleY":159,"titleBaseline":"middle"}},"color":{"field":"v","type":"quantitative","legend":null,"scale":{"interpolate":"rgb","domain":[-27,-20,-10,0,10,20,28,35.5],"range":["#000008","#02163f","#0b3a78","#2465a3","#4387bc","#76abd2","#bcd8eb","#ffffff"],"clamp":true}}}},
{"data":{"values":[{"a":0.03,"b":-26,"a2":0.95,"b2":34}]},"mark":{"type":"rule","color":"white","opacity":0.45,"strokeWidth":0.7},"encoding":{"x":{"field":"a","type":"quantitative"},"x2":{"field":"a2"},"y":{"field":"b","type":"quantitative"},"y2":{"field":"b2"}}},
{"data":{"values":[{"a":0,"a2":1,"b":-27,"b2":35.5}]},"mark":{"type":"rect","fillOpacity":0,"stroke":"#333333","strokeWidth":1.7},"encoding":{"x":{"field":"a","type":"quantitative"},"x2":{"field":"a2"},"y":{"field":"b","type":"quantitative"},"y2":{"field":"b2"}}}]},
{"width":163,"height":289,"data":{"values":[]},"mark":"point","encoding":{}},
{"width":274,"height":273,"title":{"text":"Bed","fontSize":33.5,"offset":-5},"resolve":{"axis":{"x":"independent","y":"independent"}},"layer":[
{"data":{"name":"bed"},"mark":{"type":"rect","width":21.5,"height":21.5,"clip":true},"encoding":{"x":{"field":"e","type":"quantitative","scale":{"domain":[0,20],"nice":false,"zero":false},"axis":{"orient":"bottom","zindex":1,"values":[0,10,20],"title":"E (km)"}},"y":{"field":"n","type":"quantitative","scale":{"domain":[0,20],"nice":false,"zero":false},"axis":{"orient":"left","zindex":1,"values":[0,10,20],"title":"N (km)"}},"color":{"field":"v","type":"quantitative","legend":null,"scale":{"interpolate":"rgb","domain":[-142,-80,0,100,200,300,400,445],"range":["#000000","#3a1a00","#7a430f","#9f6527","#bb873f","#dcbf90","#f5ecd8","#ffffff"],"clamp":true}}}},
{"data":{"name":"bed"},"mark":{"type":"rect","width":31,"height":31,"opacity":0.5,"clip":true},"encoding":{"x":{"field":"e","type":"quantitative","axis":null},"y":{"field":"n","type":"quantitative","axis":null},"color":{"field":"v","type":"quantitative","legend":null}}},
{"data":{"name":"bedArrows"},"mark":{"type":"rule","color":"white","strokeWidth":1.5,"clip":true},"encoding":{"x":{"field":"x","type":"quantitative","scale":{"domain":[0,20],"nice":false,"zero":false},"axis":{"orient":"top","zindex":1,"labels":false,"title":null,"values":[0,10,20]}},"x2":{"field":"x2"},"y":{"field":"y","type":"quantitative","scale":{"domain":[0,20],"nice":false,"zero":false},"axis":{"orient":"right","zindex":1,"labels":false,"title":null,"values":[0,10,20]}},"y2":{"field":"y2"}}},
{"data":{"values":[{"a":4,"a2":16,"b":4,"b2":16}]},"mark":{"type":"rect","fillOpacity":0,"stroke":"white","strokeWidth":1.7},"encoding":{"x":{"field":"a","type":"quantitative","axis":null},"x2":{"field":"a2"},"y":{"field":"b","type":"quantitative","axis":null},"y2":{"field":"b2"}}}]},
{"width":44,"height":273,"layer":[
{"data":{"name":"cbBed"},"mark":{"type":"rect","height":8,"clip":true},"encoding":{"x":{"datum":0.045,"type":"quantitative","scale":{"domain":[0,1],"nice":false},"axis":null},"x2":{"datum":1},"y":{"field":"v","type":"quantitative","scale":{"domain":[-142,445],"nice":false,"zero":false},"axis":{"orient":"right","zindex":1,"values":[0,200,400],"labelPadding":13,"title":"Elevation (m)","titleFontSize":24,"titleAngle":270,"titleX":94,"titleY":151,"titleBaseline":"middle"}},"color":{"field":"v","type":"quantitative","legend":null,"scale":{"interpolate":"rgb","domain":[-142,-80,0,100,200,300,400,445],"range":["#000000","#3a1a00","#7a430f","#9f6527","#bb873f","#dcbf90","#f5ecd8","#ffffff"],"clamp":true}}}},
{"data":{"values":[{"a":0.07,"b":-130,"a2":0.95,"b2":430}]},"mark":{"type":"rule","color":"white","opacity":0.45,"strokeWidth":0.7},"encoding":{"x":{"field":"a","type":"quantitative"},"x2":{"field":"a2"},"y":{"field":"b","type":"quantitative"},"y2":{"field":"b2"}}},
{"data":{"values":[{"a":0.045,"a2":1,"b":-142,"b2":445}]},"mark":{"type":"rect","fillOpacity":0,"stroke":"#333333","strokeWidth":1.7},"encoding":{"x":{"field":"a","type":"quantitative"},"x2":{"field":"a2"},"y":{"field":"b","type":"quantitative"},"y2":{"field":"b2"}}}]},
{"width":290,"height":289,"title":{"text":"Detrended Predicted Ice Surface","fontSize":35,"offset":7},"resolve":{"axis":{"x":"independent","y":"independent"}},"layer":[
{"data":{"name":"pred"},"mark":{"type":"rect","width":22.5,"height":22.5,"clip":true},"encoding":{"x":{"field":"e","type":"quantitative","scale":{"domain":[3.856,16.144],"nice":false,"zero":false},"axis":{"orient":"bottom","zindex":1,"values":[5,10,15],"title":"E (km)"}},"y":{"field":"n","type":"quantitative","scale":{"domain":[3.89,16.24],"nice":false,"zero":false},"axis":{"orient":"left","zindex":1,"values":[5,10,15],"title":"N (km)"}},"color":{"field":"v","type":"quantitative","legend":null,"scale":{"interpolate":"rgb","domain":[-27,-20,-10,0,10,20,28,35.5],"range":["#000008","#02163f","#0b3a78","#2465a3","#4387bc","#76abd2","#bcd8eb","#ffffff"],"clamp":true}}}},
{"data":{"name":"pred"},"mark":{"type":"rect","width":33,"height":33,"opacity":0.5,"clip":true},"encoding":{"x":{"field":"e","type":"quantitative","axis":null},"y":{"field":"n","type":"quantitative","axis":null},"color":{"field":"v","type":"quantitative","legend":null}}},
{"data":{"name":"arrows"},"mark":{"type":"rule","color":"white","strokeWidth":1.7,"clip":true},"encoding":{"x":{"field":"x","type":"quantitative","scale":{"domain":[3.856,16.144],"nice":false,"zero":false},"axis":{"orient":"top","zindex":1,"labels":false,"title":null,"values":[5,10,15]}},"x2":{"field":"x2"},"y":{"field":"y","type":"quantitative","scale":{"domain":[3.89,16.24],"nice":false,"zero":false},"axis":{"orient":"right","zindex":1,"labels":false,"title":null,"values":[5,10,15]}},"y2":{"field":"y2"}}}]},
{"width":45,"height":289,"layer":[
{"data":{"name":"cbBlue"},"mark":{"type":"rect","height":8,"clip":true},"encoding":{"x":{"datum":0,"type":"quantitative","scale":{"domain":[0,1],"nice":false},"axis":null},"x2":{"datum":1},"y":{"field":"v","type":"quantitative","scale":{"domain":[-27,35.5],"nice":false,"zero":false},"axis":{"orient":"right","zindex":1,"values":[-20,0,20],"labelPadding":13,"title":"Elevation (m)","titleFontSize":24,"titleAngle":270,"titleX":85,"titleY":159,"titleBaseline":"middle"}},"color":{"field":"v","type":"quantitative","legend":null,"scale":{"interpolate":"rgb","domain":[-27,-20,-10,0,10,20,28,35.5],"range":["#000008","#02163f","#0b3a78","#2465a3","#4387bc","#76abd2","#bcd8eb","#ffffff"],"clamp":true}}}},
{"data":{"values":[{"a":0.03,"b":-26,"a2":0.95,"b2":34}]},"mark":{"type":"rule","color":"white","opacity":0.45,"strokeWidth":0.7},"encoding":{"x":{"field":"a","type":"quantitative"},"x2":{"field":"a2"},"y":{"field":"b","type":"quantitative"},"y2":{"field":"b2"}}},
{"data":{"values":[{"a":0,"a2":1,"b":-27,"b2":35.5}]},"mark":{"type":"rect","fillOpacity":0,"stroke":"#333333","strokeWidth":1.7},"encoding":{"x":{"field":"a","type":"quantitative"},"x2":{"field":"a2"},"y":{"field":"b","type":"quantitative"},"y2":{"field":"b2"}}}]},
{"width":163,"height":289,"data":{"values":[]},"mark":"point","encoding":{}},
{"width":290,"height":289,"title":{"text":"Predicted - Actual Ice Surface","fontSize":35,"offset":7},"resolve":{"axis":{"x":"independent","y":"independent"}},"layer":[
{"data":{"name":"mis"},"mark":{"type":"rect","width":22.5,"height":22.5,"clip":true},"encoding":{"x":{"field":"e","type":"quantitative","scale":{"domain":[3.856,16.144],"nice":false,"zero":false},"axis":{"orient":"bottom","zindex":1,"values":[5,10,15],"title":"E (km)"}},"y":{"field":"n","type":"quantitative","scale":{"domain":[3.89,16.24],"nice":false,"zero":false},"axis":{"orient":"left","zindex":1,"values":[5,10,15],"title":"N (km)"}},"color":{"field":"v","type":"quantitative","legend":null,"scale":{"interpolate":"rgb","domain":[-22.5,-17.75,-13,-8.25,-3.5,1.25,6,10.75,15.5],"range":["#352A87","#0F5CDD","#1481D6","#06A4CA","#2EB7A4","#87BF77","#D1BB59","#FEC832","#F9FB0E"],"clamp":true}}}},
{"data":{"name":"mis"},"mark":{"type":"rect","width":33,"height":33,"opacity":0.5,"clip":true},"encoding":{"x":{"field":"e","type":"quantitative","axis":null},"y":{"field":"n","type":"quantitative","axis":null},"color":{"field":"v","type":"quantitative","legend":null}}},
{"data":{"name":"arrows"},"mark":{"type":"rule","color":"white","strokeWidth":1.7,"clip":true},"encoding":{"x":{"field":"x","type":"quantitative","scale":{"domain":[3.856,16.144],"nice":false,"zero":false},"axis":{"orient":"top","zindex":1,"labels":false,"title":null,"values":[5,10,15]}},"x2":{"field":"x2"},"y":{"field":"y","type":"quantitative","scale":{"domain":[3.89,16.24],"nice":false,"zero":false},"axis":{"orient":"right","zindex":1,"labels":false,"title":null,"values":[5,10,15]}},"y2":{"field":"y2"}}}]},
{"width":44,"height":289,"layer":[
{"data":{"name":"cbMis"},"mark":{"type":"rect","height":8.5,"clip":true},"encoding":{"x":{"datum":0,"type":"quantitative","scale":{"domain":[0,1],"nice":false},"axis":null},"x2":{"datum":1},"y":{"field":"v","type":"quantitative","scale":{"domain":[-22.5,15.5],"nice":false,"zero":false},"axis":{"orient":"right","zindex":1,"values":[-20,-10,0,10],"labelPadding":13,"title":"Misfit (m)","titleFontSize":24,"titleAngle":270,"titleX":86,"titleY":160,"titleBaseline":"middle"}},"color":{"field":"v","type":"quantitative","legend":null,"scale":{"interpolate":"rgb","domain":[-22.5,-17.75,-13,-8.25,-3.5,1.25,6,10.75,15.5],"range":["#352A87","#0F5CDD","#1481D6","#06A4CA","#2EB7A4","#87BF77","#D1BB59","#FEC832","#F9FB0E"],"clamp":true}}}},
{"data":{"values":[{"a":0.03,"b":-21.5,"a2":0.95,"b2":14.5}]},"mark":{"type":"rule","color":"white","opacity":0.45,"strokeWidth":0.7},"encoding":{"x":{"field":"a","type":"quantitative"},"x2":{"field":"a2"},"y":{"field":"b","type":"quantitative"},"y2":{"field":"b2"}}},
{"data":{"values":[{"a":0,"a2":1,"b":-22.5,"b2":15.5}]},"mark":{"type":"rect","fillOpacity":0,"stroke":"#333333","strokeWidth":1.7},"encoding":{"x":{"field":"a","type":"quantitative"},"x2":{"field":"a2"},"y":{"field":"b","type":"quantitative"},"y2":{"field":"b2"}}}]}
]}
